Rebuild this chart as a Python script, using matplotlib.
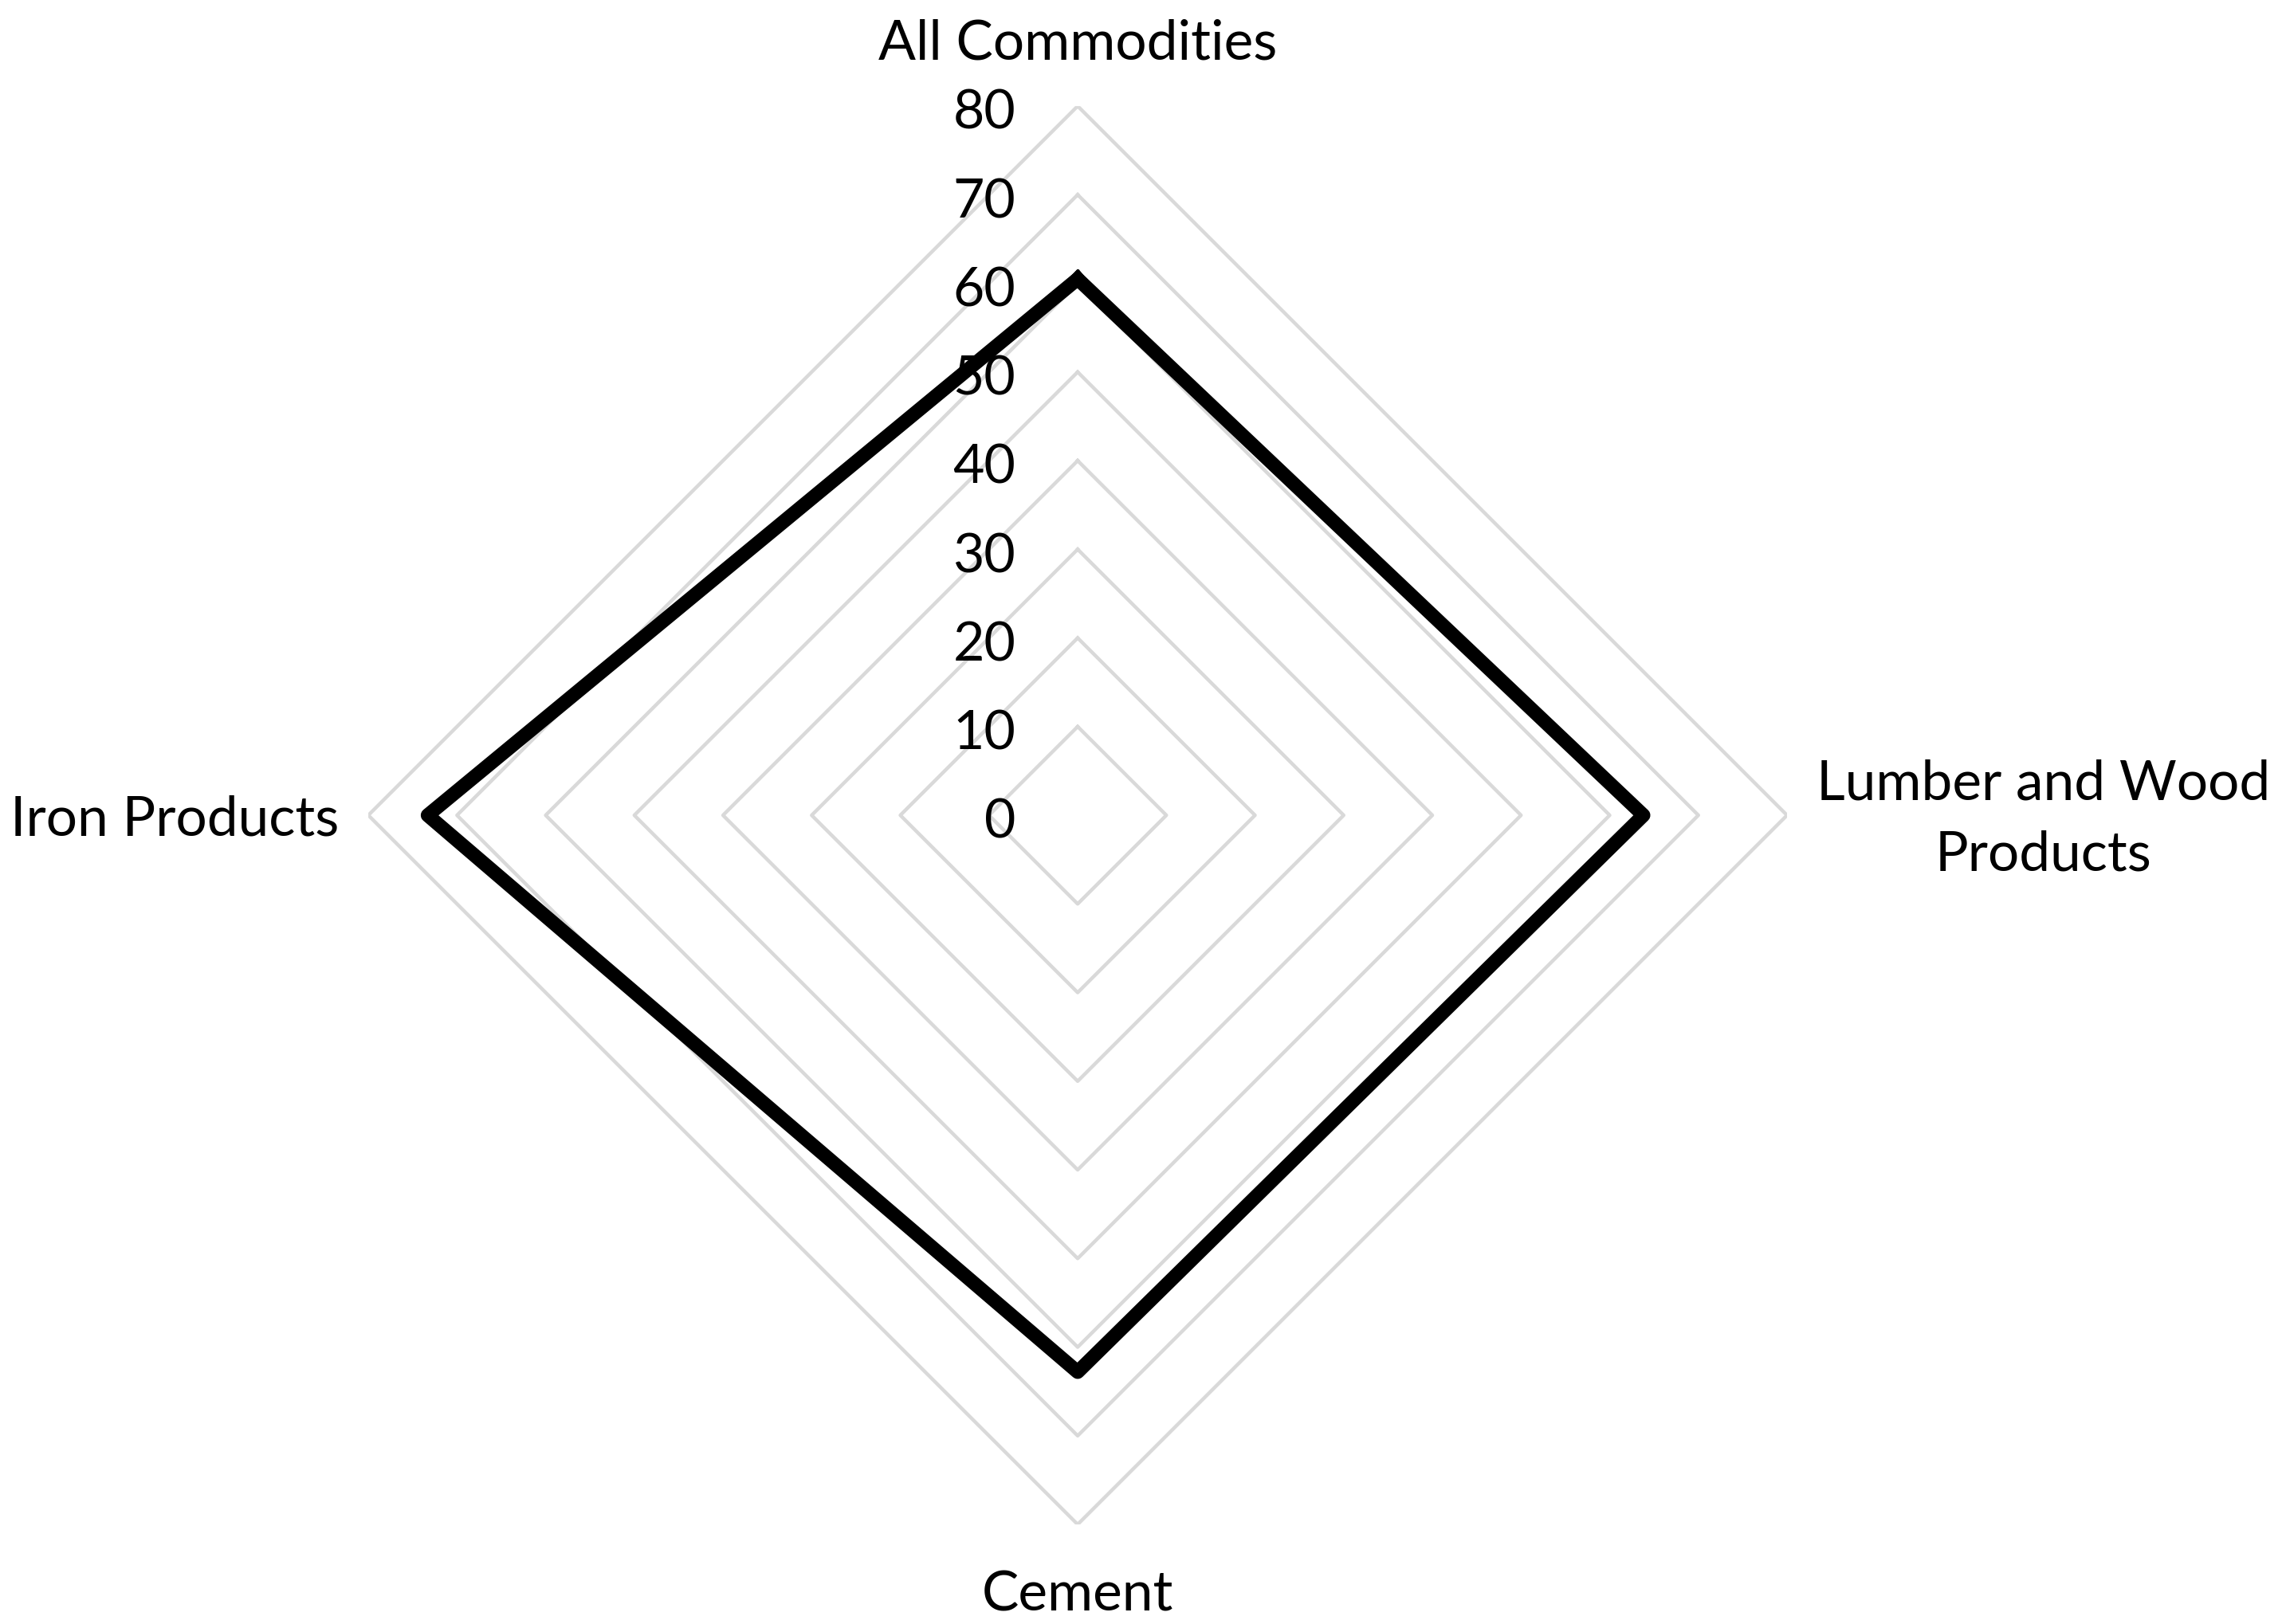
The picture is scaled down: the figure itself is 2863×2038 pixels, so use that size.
import matplotlib.pyplot as plt
import matplotlib.transforms as mtransforms
import numpy as np

# data
categories = ["All Commodities", "Lumber and Wood\nProducts", "Cement", "Iron Products"]
values = [60.5, 63.8, 62.8, 73.3]
ring_levels = [10, 20, 30, 40, 50, 60, 70, 80]
tick_labels = ["0", "10", "20", "30", "40", "50", "60", "70", "80"]

plt.rcParams["font.family"] = ["Lato", "DejaVu Sans"]
FS = 24.5
FS_CAT = 25

fig = plt.figure(figsize=(2863 / 200, 2038 / 200), dpi=200)
ax = fig.add_axes([0.1614, 0.0613, 0.6217, 0.8734], projection="polar")
ax.set_theta_zero_location("N")
ax.set_theta_direction(-1)
ax.set_ylim(0, 80)
ax.grid(False)
ax.spines["polar"].set_visible(False)
ax.set_xticks([])
ax.set_yticks([])
ax.patch.set_visible(False)

n = len(categories)
theta = np.arange(n) * 2 * np.pi / n
theta_closed = np.append(theta, theta[0])

# grey diamond gridlines
for r in ring_levels:
    ax.plot(theta_closed, [r] * (n + 1), color="#d9d9d9", lw=1.6, zorder=1)

# data series
vals = np.append(values, values[0])
ax.plot(theta_closed, vals, color="black", lw=6.3, solid_joinstyle="round", zorder=3)

# radial tick labels
off = mtransforms.offset_copy(ax.transData, fig=fig, x=-28, y=-3.5, units="points")
for lab in tick_labels:
    ax.text(0, float(lab), lab, transform=off, ha="right", va="center",
            fontsize=FS, color="black")

# category labels
cat_off = mtransforms.offset_copy(ax.transData, fig=fig, x=0, y=-2, units="points")
ax.text(theta[0], 87.5, categories[0], transform=cat_off, ha="center", va="center",
        fontsize=FS_CAT)
ax.text(theta[1], 83.3, categories[1], transform=cat_off, ha="left", va="center",
        fontsize=FS_CAT, multialignment="center", linespacing=1.5)
ax.text(theta[2], 87.5, categories[2], transform=cat_off, ha="center", va="center",
        fontsize=FS_CAT)
ax.text(theta[3], 83.3, categories[3], transform=cat_off, ha="right", va="center",
        fontsize=FS_CAT)

fig.savefig("out.png", dpi=200, facecolor="white")
